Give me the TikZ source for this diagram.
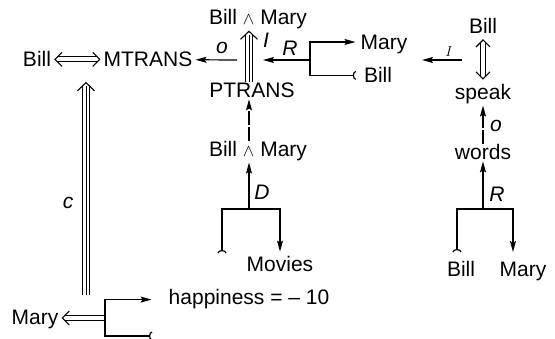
\documentclass[tikz,border=0pt]{standalone}
\usepackage{fontspec}
\setmainfont{Liberation Sans}
\usetikzlibrary{positioning,arrows.meta}

\newcommand{\wdg}{{\fontsize{18}{18}\selectfont$\wedge$}}
\tikzstyle{word} = [inner sep=1pt, anchor=base, font=\fontsize{21}{25}\selectfont]
\tikzstyle{lab} = [inner sep=0pt, font=\fontsize{21}{25}\selectfont\itshape]
\tikzstyle{arr} = [line width=1.2pt, -{Stealth[length=11pt,width=6pt,inset=2pt]}]
\tikzstyle{brk} = [line width=1.2pt, {Arc Barb[reversed,length=3pt,width=9pt]}-{Stealth[length=11pt,width=6pt,inset=2pt]}]
\tikzstyle{dbl} = [line width=1pt, double, double distance=4pt]
\tikzstyle{trip} = [line width=1pt, double, double distance=5.5pt, shorten >=3pt]
\tikzstyle{tripmid} = [line width=1pt, shorten >=3pt]
\tikzstyle{imp} = [draw=white, line width=0.6pt, -{Straight Barb[color=black, line width=1.1pt, length=7pt, width=14pt]}]
\tikzstyle{timp} = [draw=white, line width=0.6pt, -{Straight Barb[color=black, line width=1.1pt, length=8pt, width=17pt]}]

\begin{document}
\begin{tikzpicture}[x=1pt,y=-1pt]
\useasboundingbox (0,0) rectangle (555,339);
\node[word] (bill1) at (37,67) {Bill};
\node[word] (mtrans) at (148,67) {MTRANS};
\node[word] (bm1) at (258,25) {Bill \wdg{} Mary};
\node[word] (ptrans) at (252,98) {PTRANS};
\node[word] (mary1) at (384,50) {Mary};
\node[word] (bill2) at (378,83) {Bill};
\node[word] (bill3) at (483,34) {Bill};
\node[word] (speak) at (483,100) {speak};
\node[word] (bm2) at (258,157) {Bill \wdg{} Mary};
\node[word] (words) at (483,160) {words};
\node[word] (movies) at (280,272) {Movies};
\node[word] (bill4) at (461,277) {Bill};
\node[word] (mary4) at (523,277) {Mary};
\node[word] (mary5) at (35,325) {Mary};
\node[word] (happy) at (249,305) {happiness = \textendash{} 10};

\node[lab] (lc) at (68,203) {c};
\node[lab] (lo1) at (222,48) {o};
\node[lab] (li1) at (266,40) {I};
\node[lab] (lr1) at (290,48) {R};
\node[lab, font=\fontsize{15}{15}\selectfont] (li2) at (449,52) {$I$};
\node[lab] (ld) at (262,192) {D};
\node[lab] (lo2) at (496,126) {o};
\node[lab] (lr2) at (497,194) {R};

\coordinate (ost) at (237,60);
\coordinate (rmid) at (310,60);
\coordinate (ren) at (263,60);
\coordinate (rtop) at (310,42);
\coordinate (ist) at (462,60);
\coordinate (ien) at (422,60);
\coordinate (cst) at (86,295);
\coordinate (cen) at (86,82);
\coordinate (pcol) at (249,0);
\coordinate (dl) at (222,253);
\coordinate (dm) at (249,209);
\coordinate (rl) at (457,252);
\coordinate (rm) at (483,209);
\coordinate (rr) at (513,252);
\coordinate (mb) at (105,318);
\coordinate (mbe) at (152,336);

\draw[dbl, shorten <=5pt, shorten >=5pt] (bill1.east) -- (bill1.east -| mtrans.west);
\draw[imp] (bill1.east) ++(6,0) -- ++(-4,0);
\draw[imp] (bill1.east -| mtrans.west) ++(-6,0) -- ++(4,0);
\draw[arr, shorten >=2pt] (ost) -- (mtrans.east);
\draw[trip] (pcol |- ptrans.north) -- (pcol |- bm1.south);
\draw[tripmid] (pcol |- ptrans.north) -- (pcol |- bm1.south);
\draw[timp] (pcol |- bm1.south) ++(0,4) -- ++(0,-4);
\draw[arr] (rmid) -- (ren);
\draw[brk, shorten <=7pt, shorten >=4pt] (bill2.west) -| (rtop) -- (rtop -| mary1.west);
\draw[arr, dash pattern=on 14pt off 2pt] (pcol |- bm2.north) -- (pcol |- ptrans.south);
\draw[arr] (dm) -- (pcol |- bm2.south);
\draw[brk, shorten >=4pt] (dl) |- (dm) -| (movies.north);
\draw[dbl, shorten <=7pt, shorten >=7pt] (bill3.south) -- (speak.north);
\draw[imp] (bill3.south) ++(0,8) -- ++(0,-4);
\draw[imp] (speak.north) ++(0,-8) -- ++(0,4);
\draw[arr] (ist) -- (ien);
\draw[arr, dash pattern=on 14pt off 2pt] (words.north) -- (speak.south);
\draw[arr] (rm) -- (rm |- words.south);
\draw[brk] (rl) |- (rm) -| (rr);
\draw[trip] (cst) -- (cen);
\draw[tripmid] (cst) -- (cen);
\draw[timp] (cen) ++(0,4) -- ++(0,-4);
\draw[dbl, shorten >=5pt] (mb) -- (mb -| mary5.east);
\draw[imp] (mb -| mary5.east) ++(6,0) -- ++(-4,0);
\draw[brk, shorten >=16pt] (mbe) -| (mb) |- (happy.west);
\end{tikzpicture}
\end{document}
